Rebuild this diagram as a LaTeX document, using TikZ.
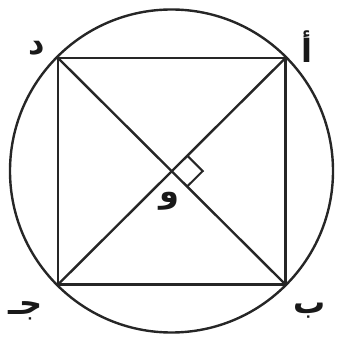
\documentclass[tikz,border=0pt]{standalone}
\usepackage{fontspec}
\usetikzlibrary{calc}
\newfontfamily\arabicfont[Script=Arabic]{DejaVu Sans}
\TeXXeTstate=1
\begin{document}
\begin{tikzpicture}[x=1pt,y=1pt,
  geo/.style={line width=2.4pt, draw=black!85},
  lbl/.style={font=\arabicfont\bfseries\fontsize{32}{34}\selectfont, text=black!90, inner sep=0pt}]
\useasboundingbox (0,0) rectangle (338,343);
\coordinate (O) at (171.5,172);
\coordinate (A) at (285.5,285);
\coordinate (D) at (58,285);
\coordinate (J) at (58,58.5);
\coordinate (B) at (285.5,58.5);
\draw[geo] (O) circle (161.5);
\draw[geo] (A) -- (D) -- (J) -- (B) -- cycle;
\draw[geo] (A) -- (J);
\draw[geo] (D) -- (B);
\draw[line width=2pt, draw=black!85] ($(O)!22pt!(A)$) coordinate (m1) -- ++(15.6,-15.6) coordinate (m2) -- ($(O)!22pt!(B)$);
\node[lbl] (ld) at (37,295) {\beginR د\endR};
\node[lbl] (la) at (307,296) {\beginR أ\endR};
\node[lbl] (lj) at (26,32) {\beginR جـ\endR};
\node[lbl] (lb) at (310,32) {\beginR ب\endR};
\node[lbl] (lw) at (169,142) {\beginR و\endR};
\end{tikzpicture}
\end{document}
